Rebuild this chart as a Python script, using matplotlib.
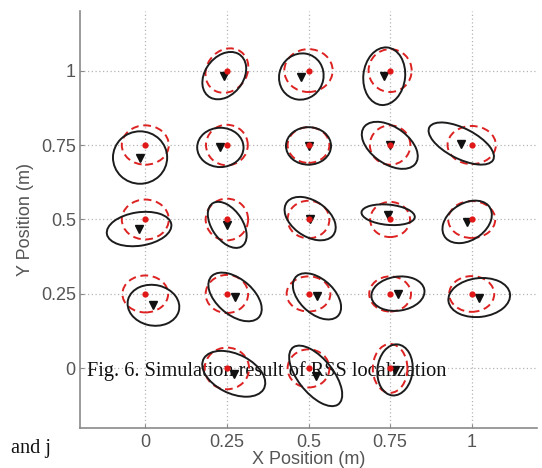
import matplotlib
matplotlib.use("Agg")
import matplotlib.pyplot as plt
from matplotlib.patches import Ellipse

# True node positions (m)
true_x = [0.25, 0.50, 0.75,
          0.00, 0.25, 0.50, 0.75, 1.00,
          0.00, 0.25, 0.50, 0.75, 1.00,
          0.00, 0.25, 0.50, 0.75, 1.00,
          0.25, 0.50, 0.75]
true_y = [1.00, 1.00, 1.00,
          0.75, 0.75, 0.75, 0.75, 0.75,
          0.50, 0.50, 0.50, 0.50, 0.50,
          0.25, 0.25, 0.25, 0.25, 0.25,
          0.00, 0.00, 0.00]

# Mean of the RSS position estimates (m)
est_x = [0.242, 0.478, 0.732,
         -0.016, 0.230, 0.500, 0.749, 0.968,
         -0.019, 0.251, 0.505, 0.744, 0.986,
         0.025, 0.275, 0.526, 0.774, 1.023,
         0.271, 0.522, 0.765]
est_y = [0.983, 0.980, 0.981,
         0.708, 0.742, 0.747, 0.749, 0.755,
         0.468, 0.482, 0.503, 0.516, 0.492,
         0.212, 0.240, 0.242, 0.251, 0.238,
         -0.018, -0.025, -0.005]

# Covariance ellipse of the estimates: semi-axes (m) and tilt (deg)
est_a = [0.085, 0.078, 0.097,
         0.088, 0.071, 0.069, 0.100, 0.112,
         0.100, 0.085, 0.090, 0.082, 0.085,
         0.080, 0.100, 0.092, 0.082, 0.095,
         0.105, 0.118, 0.086]
est_b = [0.060, 0.068, 0.064,
         0.083, 0.066, 0.063, 0.060, 0.050,
         0.056, 0.048, 0.058, 0.034, 0.060,
         0.068, 0.058, 0.055, 0.057, 0.065,
         0.065, 0.055, 0.054]
est_ang = [60, 80, 85,
           90, 0, 0, -40, -30,
           10, -60, -40, -6, 40,
           -15, -45, -48, 10, 8,
           -30, -55, 85]

# Cramer-Rao bound ellipse around the true position
crb_a = [0.077, 0.074, 0.072,
         0.072, 0.068, 0.064, 0.066, 0.074,
         0.072, 0.070, 0.064, 0.061, 0.072,
         0.070, 0.065, 0.067, 0.064, 0.069,
         0.070, 0.064, 0.082]
crb_b = [0.063, 0.072, 0.066,
         0.066, 0.064, 0.060, 0.062, 0.064,
         0.067, 0.065, 0.063, 0.059, 0.062,
         0.062, 0.064, 0.059, 0.059, 0.060,
         0.068, 0.064, 0.053]
crb_ang = [65, 0, 90,
           0, 90, 0, 90, 0,
           0, 90, 0, 0, 0,
           0, 0, 0, 0, 0,
           90, 0, 90]

ticks = [0, 0.25, 0.5, 0.75, 1]
tick_labels = ["0", "0.25", "0.5", "0.75", "1"]

W, H, DPI = 542, 468, 100
fig = plt.figure(figsize=(W / DPI, H / DPI), dpi=DPI)
ax = fig.add_axes([80 / W, 1 - 428 / H, 457 / W, 417 / H])

ax.set_xlim(-0.2, 1.2)
ax.set_ylim(-0.2, 1.2)

sans = ["Liberation Sans", "DejaVu Sans"]
serif = ["Liberation Serif", "DejaVu Serif"]
gray_txt = "#555555"

for i in range(len(true_x)):
    ax.add_patch(Ellipse((true_x[i], true_y[i]), 2 * crb_a[i], 2 * crb_b[i],
                         angle=crb_ang[i], fill=False, edgecolor="#dd2222",
                         linewidth=1.4, linestyle=(0, (4, 2.4)), zorder=3))
    ax.add_patch(Ellipse((est_x[i], est_y[i]), 2 * est_a[i], 2 * est_b[i],
                         angle=est_ang[i], fill=False, edgecolor="#1c1c1c",
                         linewidth=1.4, zorder=4))

ax.plot(est_x, est_y, linestyle="none", marker="v", markersize=6.3,
        color="#111111", zorder=5)
ax.plot(true_x, true_y, linestyle="none", marker="o", markersize=4.5,
        color="#e01818", markeredgewidth=0, zorder=6)

ax.set_xticks(ticks)
ax.set_yticks(ticks)
ax.set_xticklabels(tick_labels, family=sans, fontsize=13, color=gray_txt)
ax.set_yticklabels(tick_labels, family=sans, fontsize=13, color=gray_txt)
ax.tick_params(axis="both", direction="in", length=3, color="#888888", width=0.8)
ax.tick_params(axis="x", pad=4)
ax.tick_params(axis="y", pad=3)

ax.grid(True, linestyle=(0, (1, 2)), color="#b5b5b5", linewidth=0.9, zorder=0)
ax.set_axisbelow(True)

for side in ("top", "right"):
    ax.spines[side].set_visible(False)
for side in ("left", "bottom"):
    ax.spines[side].set_color("#8a8a8a")
    ax.spines[side].set_linewidth(1.2)

ax.set_xlabel("X Position (m)", family=sans, fontsize=13, color=gray_txt, va="center")
ax.xaxis.set_label_coords(0.5, (428 - 459.5) / 417)
ax.set_ylabel("Y Position (m)", family=sans, fontsize=13, color=gray_txt, va="center")
ax.yaxis.set_label_coords((25 - 80) / 457, 0.5)

# Caption of the figure, lying under the plotted marks
ax.text(87 / W, 1 - 376 / H, "Fig. 6. Simulation result of RSS localization",
        transform=fig.transFigure, family=serif, fontsize=14.6, color="#111111",
        ha="left", va="baseline", zorder=2.5, clip_on=False)
fig.text(11 / W, 1 - 453 / H, "and j", family=serif, fontsize=14.6,
         color="#111111", ha="left", va="baseline")

fig.savefig("out.png", dpi=DPI)
